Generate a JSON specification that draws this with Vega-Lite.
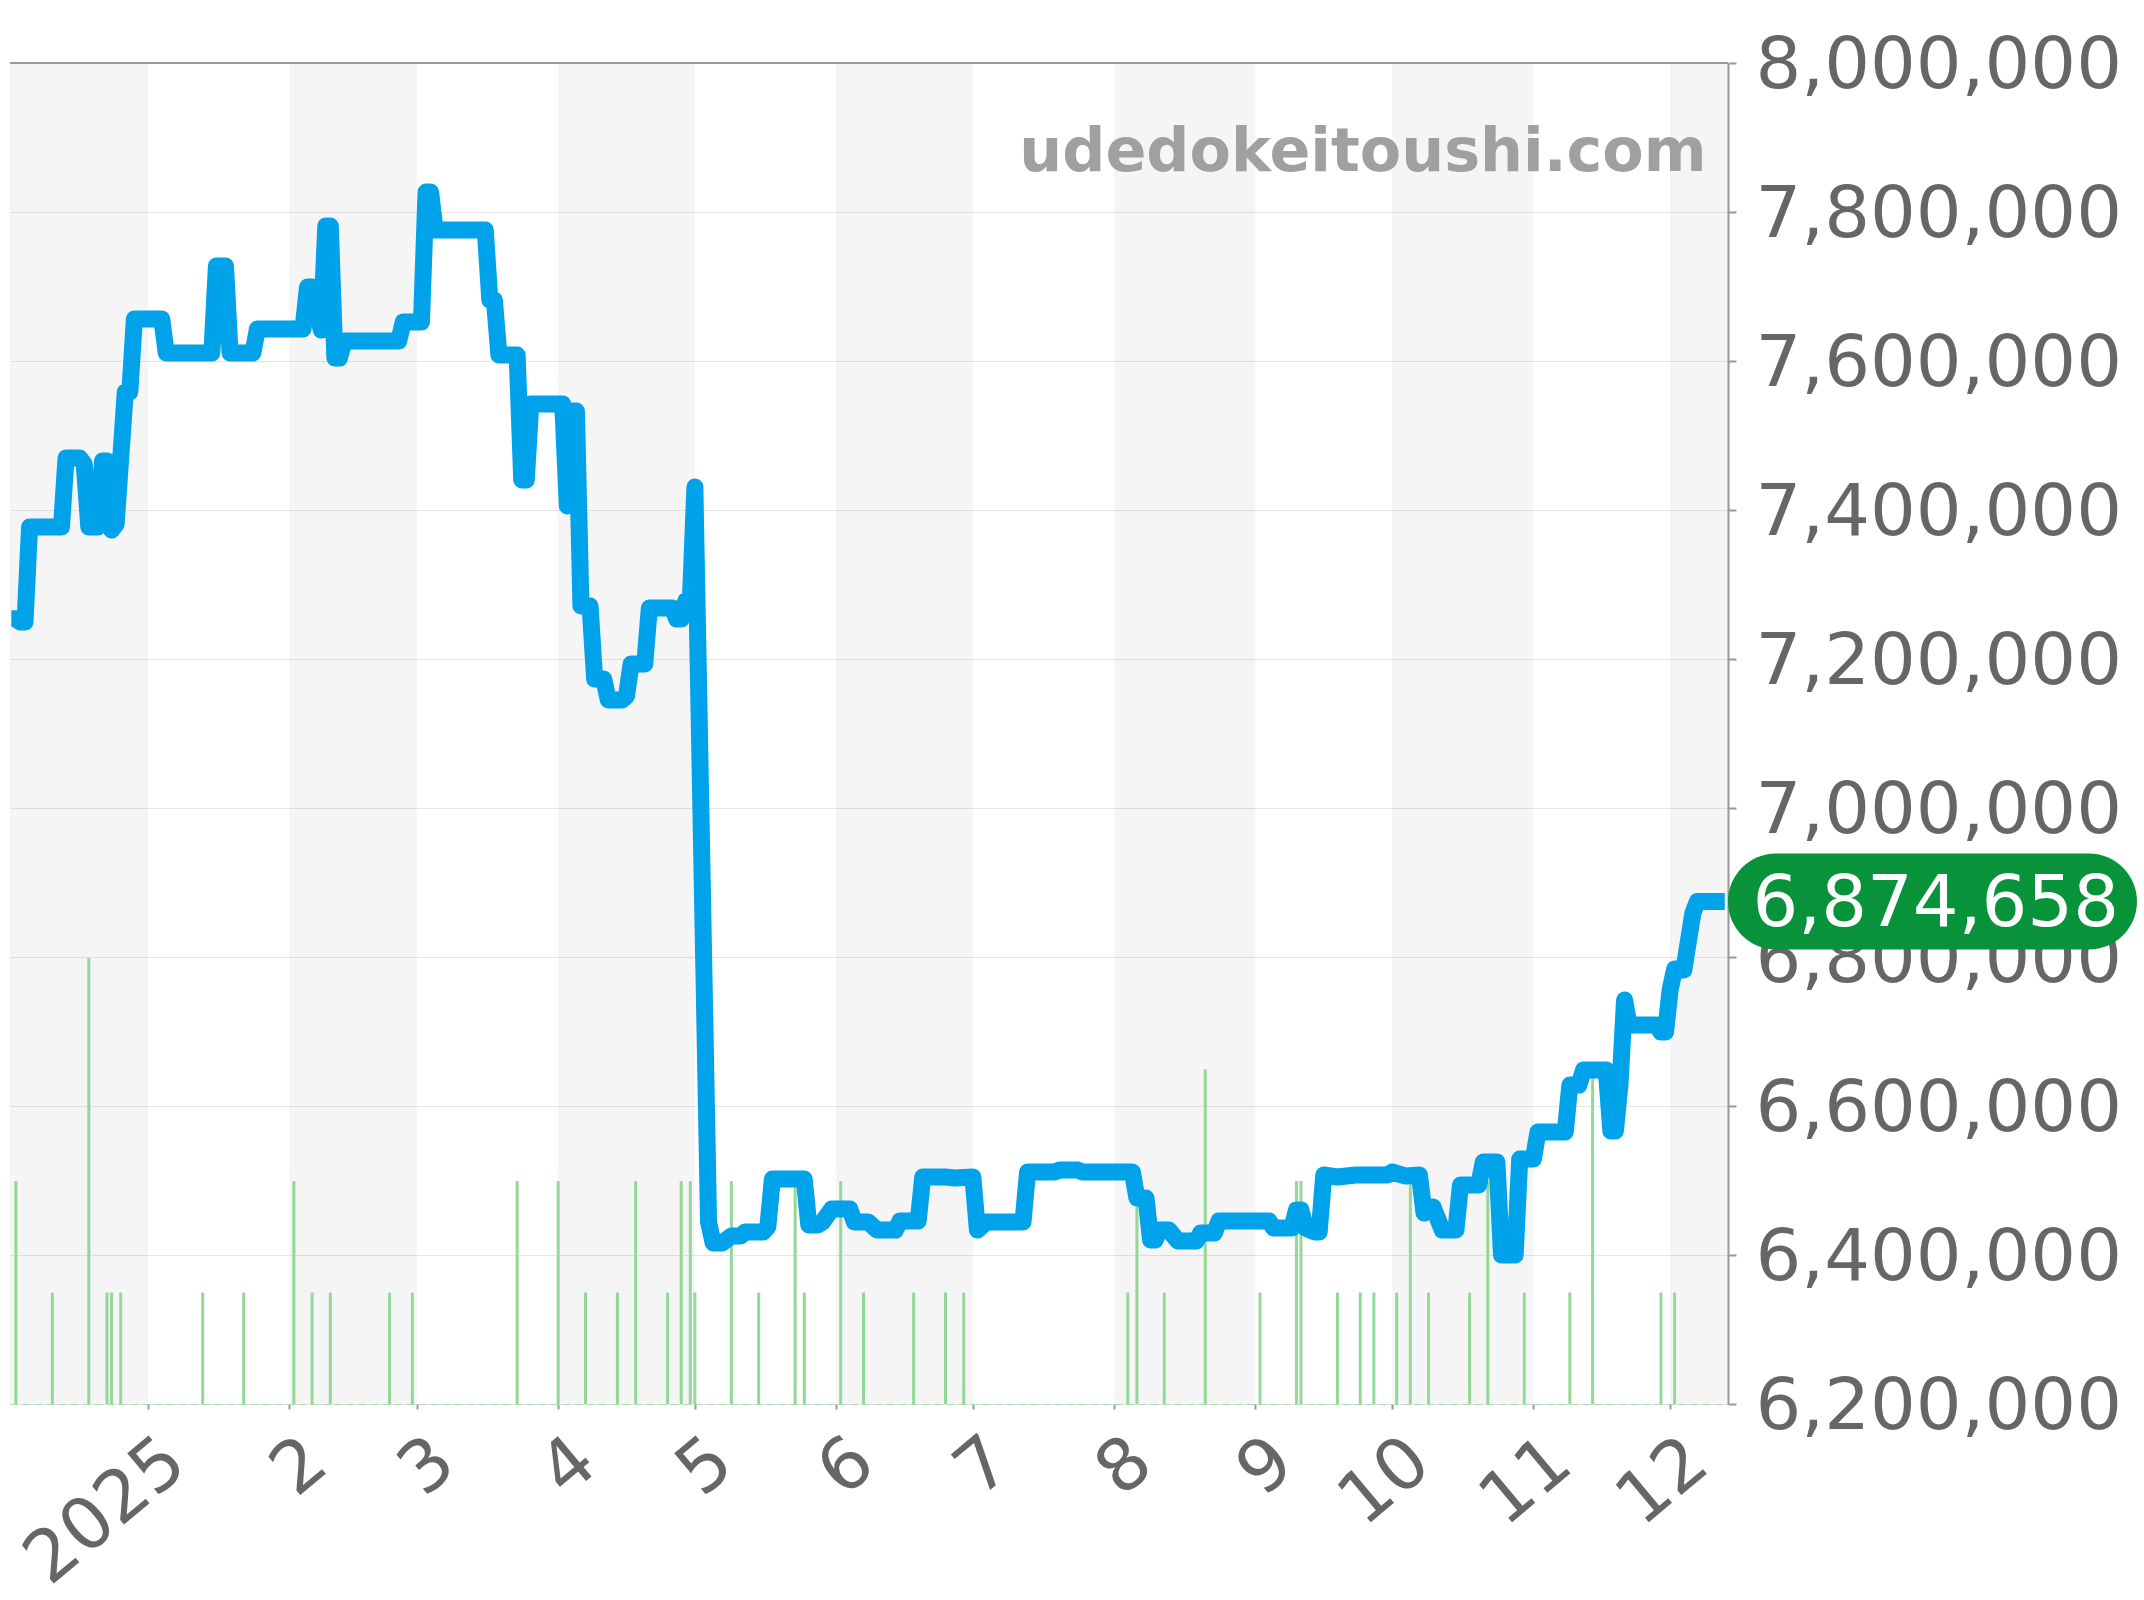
{
  "$schema": "https://vega.github.io/schema/vega-lite/v6.json",
  "width": 1718,
  "height": 1341,
  "autosize": {"type": "none"},
  "padding": {"left": 10, "top": 63, "right": 416, "bottom": 196},
  "background": "#ffffff",
  "config": {"view": {"stroke": null}, "font": "DejaVu Sans"},
  "datasets": {
    "bands": [
      {"start": "2024-12-01", "end": "2025-01-01"},
      {"start": "2025-02-01", "end": "2025-03-01"},
      {"start": "2025-04-01", "end": "2025-05-01"},
      {"start": "2025-06-01", "end": "2025-07-01"},
      {"start": "2025-08-01", "end": "2025-09-01"},
      {"start": "2025-10-01", "end": "2025-11-01"},
      {"start": "2025-12-01", "end": "2026-01-01"}
    ],
    "volume": [
      {"date": "2024-12-03", "count": 2}, {"date": "2024-12-11", "count": 1}, {"date": "2024-12-19", "count": 4},
      {"date": "2024-12-23", "count": 1}, {"date": "2024-12-24", "count": 1}, {"date": "2024-12-26", "count": 1},
      {"date": "2025-01-13", "count": 1}, {"date": "2025-01-22", "count": 1}, {"date": "2025-02-02", "count": 2},
      {"date": "2025-02-06", "count": 1}, {"date": "2025-02-10", "count": 1}, {"date": "2025-02-23", "count": 1},
      {"date": "2025-02-28", "count": 1}, {"date": "2025-03-23", "count": 2}, {"date": "2025-04-01", "count": 2},
      {"date": "2025-04-07", "count": 1}, {"date": "2025-04-14", "count": 1}, {"date": "2025-04-18", "count": 2},
      {"date": "2025-04-25", "count": 1}, {"date": "2025-04-28", "count": 2}, {"date": "2025-04-30", "count": 2},
      {"date": "2025-05-01", "count": 1}, {"date": "2025-05-09", "count": 2}, {"date": "2025-05-15", "count": 1},
      {"date": "2025-05-23", "count": 2}, {"date": "2025-05-25", "count": 1}, {"date": "2025-06-02", "count": 2},
      {"date": "2025-06-07", "count": 1}, {"date": "2025-06-18", "count": 1}, {"date": "2025-06-25", "count": 1},
      {"date": "2025-06-29", "count": 1}, {"date": "2025-08-04", "count": 1}, {"date": "2025-08-06", "count": 2},
      {"date": "2025-08-12", "count": 1}, {"date": "2025-08-21", "count": 3}, {"date": "2025-09-02", "count": 1},
      {"date": "2025-09-10", "count": 2}, {"date": "2025-09-11", "count": 2}, {"date": "2025-09-19", "count": 1},
      {"date": "2025-09-24", "count": 1}, {"date": "2025-09-27", "count": 1}, {"date": "2025-10-02", "count": 1},
      {"date": "2025-10-05", "count": 2}, {"date": "2025-10-09", "count": 1}, {"date": "2025-10-18", "count": 1},
      {"date": "2025-10-22", "count": 2}, {"date": "2025-10-30", "count": 1}, {"date": "2025-11-09", "count": 1},
      {"date": "2025-11-14", "count": 3}, {"date": "2025-11-29", "count": 1}, {"date": "2025-12-02", "count": 1}
    ],
    "price": [
      {"date": "2024-12-02", "price": 7254000}, {"date": "2024-12-03", "price": 7254000}, {"date": "2024-12-04", "price": 7249600}, {"date": "2024-12-05", "price": 7249600},
      {"date": "2024-12-06", "price": 7377200}, {"date": "2024-12-13", "price": 7377200}, {"date": "2024-12-14", "price": 7469800},
      {"date": "2024-12-17", "price": 7469800}, {"date": "2024-12-18", "price": 7461700}, {"date": "2024-12-19", "price": 7377200},
      {"date": "2024-12-21", "price": 7377200}, {"date": "2024-12-22", "price": 7465800}, {"date": "2024-12-23", "price": 7465800},
      {"date": "2024-12-24", "price": 7373100}, {"date": "2024-12-25", "price": 7381200}, {"date": "2024-12-27", "price": 7558400},
      {"date": "2024-12-28", "price": 7558400}, {"date": "2024-12-29", "price": 7656400}, {"date": "2025-01-04", "price": 7656400},
      {"date": "2025-01-05", "price": 7610700}, {"date": "2025-01-15", "price": 7610700}, {"date": "2025-01-16", "price": 7727500},
      {"date": "2025-01-18", "price": 7727500}, {"date": "2025-01-19", "price": 7610700}, {"date": "2025-01-24", "price": 7610700},
      {"date": "2025-01-25", "price": 7643000}, {"date": "2025-02-04", "price": 7643000}, {"date": "2025-02-05", "price": 7699300},
      {"date": "2025-02-06", "price": 7699300}, {"date": "2025-02-08", "price": 7641600}, {"date": "2025-02-09", "price": 7781200},
      {"date": "2025-02-10", "price": 7781200}, {"date": "2025-02-11", "price": 7604000}, {"date": "2025-02-12", "price": 7604000},
      {"date": "2025-02-13", "price": 7626800}, {"date": "2025-02-25", "price": 7626800}, {"date": "2025-02-26", "price": 7652300},
      {"date": "2025-03-02", "price": 7652300}, {"date": "2025-03-03", "price": 7826800}, {"date": "2025-03-04", "price": 7826800},
      {"date": "2025-03-05", "price": 7775800}, {"date": "2025-03-16", "price": 7775800}, {"date": "2025-03-17", "price": 7681900},
      {"date": "2025-03-18", "price": 7681900}, {"date": "2025-03-19", "price": 7608000}, {"date": "2025-03-23", "price": 7608000},
      {"date": "2025-03-24", "price": 7440300}, {"date": "2025-03-25", "price": 7440300}, {"date": "2025-03-26", "price": 7542300},
      {"date": "2025-04-02", "price": 7542300}, {"date": "2025-04-03", "price": 7405400}, {"date": "2025-04-04", "price": 7532900},
      {"date": "2025-04-05", "price": 7532900}, {"date": "2025-04-06", "price": 7271100}, {"date": "2025-04-08", "price": 7271100},
      {"date": "2025-04-09", "price": 7173100}, {"date": "2025-04-11", "price": 7173100}, {"date": "2025-04-12", "price": 7145000},
      {"date": "2025-04-15", "price": 7145000}, {"date": "2025-04-16", "price": 7150300}, {"date": "2025-04-17", "price": 7193300},
      {"date": "2025-04-20", "price": 7193300}, {"date": "2025-04-21", "price": 7268400}, {"date": "2025-04-26", "price": 7268400},
      {"date": "2025-04-27", "price": 7253700}, {"date": "2025-04-28", "price": 7253700}, {"date": "2025-04-29", "price": 7277800},
      {"date": "2025-04-30", "price": 7277800}, {"date": "2025-05-01", "price": 7430900}, {"date": "2025-05-04", "price": 6444300},
      {"date": "2025-05-05", "price": 6416100}, {"date": "2025-05-07", "price": 6416100}, {"date": "2025-05-09", "price": 6425500},
      {"date": "2025-05-11", "price": 6425500}, {"date": "2025-05-12", "price": 6430800}, {"date": "2025-05-16", "price": 6430800},
      {"date": "2025-05-17", "price": 6437600}, {"date": "2025-05-18", "price": 6502000}, {"date": "2025-05-25", "price": 6502000},
      {"date": "2025-05-26", "price": 6440200}, {"date": "2025-05-28", "price": 6440200}, {"date": "2025-05-29", "price": 6444300},
      {"date": "2025-05-31", "price": 6461700}, {"date": "2025-06-04", "price": 6461700}, {"date": "2025-06-05", "price": 6444300},
      {"date": "2025-06-08", "price": 6444300}, {"date": "2025-06-10", "price": 6433500}, {"date": "2025-06-14", "price": 6433500},
      {"date": "2025-06-15", "price": 6445600}, {"date": "2025-06-19", "price": 6445600}, {"date": "2025-06-20", "price": 6504700},
      {"date": "2025-06-25", "price": 6504700}, {"date": "2025-06-27", "price": 6503400}, {"date": "2025-07-01", "price": 6504700},
      {"date": "2025-07-02", "price": 6433500}, {"date": "2025-07-04", "price": 6444300}, {"date": "2025-07-12", "price": 6444300},
      {"date": "2025-07-13", "price": 6511400}, {"date": "2025-07-19", "price": 6511400}, {"date": "2025-07-20", "price": 6514100},
      {"date": "2025-07-24", "price": 6514100}, {"date": "2025-07-25", "price": 6511400}, {"date": "2025-08-05", "price": 6511400},
      {"date": "2025-08-06", "price": 6476500}, {"date": "2025-08-08", "price": 6476500}, {"date": "2025-08-09", "price": 6420100},
      {"date": "2025-08-10", "price": 6420100}, {"date": "2025-08-11", "price": 6433500}, {"date": "2025-08-13", "price": 6433500},
      {"date": "2025-08-15", "price": 6418800}, {"date": "2025-08-19", "price": 6418800}, {"date": "2025-08-20", "price": 6429500},
      {"date": "2025-08-23", "price": 6429500}, {"date": "2025-08-24", "price": 6445600}, {"date": "2025-09-04", "price": 6445600},
      {"date": "2025-09-05", "price": 6436200}, {"date": "2025-09-09", "price": 6436200}, {"date": "2025-09-10", "price": 6460400},
      {"date": "2025-09-11", "price": 6460400}, {"date": "2025-09-12", "price": 6436200}, {"date": "2025-09-14", "price": 6430800},
      {"date": "2025-09-15", "price": 6430800}, {"date": "2025-09-16", "price": 6507400}, {"date": "2025-09-19", "price": 6504700},
      {"date": "2025-09-21", "price": 6506000}, {"date": "2025-09-23", "price": 6507400}, {"date": "2025-09-30", "price": 6507400},
      {"date": "2025-10-01", "price": 6511400}, {"date": "2025-10-04", "price": 6506000}, {"date": "2025-10-07", "price": 6507400},
      {"date": "2025-10-08", "price": 6456300}, {"date": "2025-10-10", "price": 6464400}, {"date": "2025-10-12", "price": 6433500},
      {"date": "2025-10-15", "price": 6433500}, {"date": "2025-10-16", "price": 6493900}, {"date": "2025-10-20", "price": 6493900},
      {"date": "2025-10-21", "price": 6524800}, {"date": "2025-10-24", "price": 6524800}, {"date": "2025-10-25", "price": 6400000},
      {"date": "2025-10-28", "price": 6400000}, {"date": "2025-10-29", "price": 6528800}, {"date": "2025-11-01", "price": 6528800},
      {"date": "2025-11-02", "price": 6565100}, {"date": "2025-11-08", "price": 6565100}, {"date": "2025-11-09", "price": 6628200},
      {"date": "2025-11-11", "price": 6628200}, {"date": "2025-11-12", "price": 6648300}, {"date": "2025-11-17", "price": 6648300},
      {"date": "2025-11-18", "price": 6566400}, {"date": "2025-11-19", "price": 6566400}, {"date": "2025-11-20", "price": 6628200},
      {"date": "2025-11-21", "price": 6742300}, {"date": "2025-11-22", "price": 6708700}, {"date": "2025-11-28", "price": 6708700},
      {"date": "2025-11-29", "price": 6699300}, {"date": "2025-11-30", "price": 6699300}, {"date": "2025-12-01", "price": 6755700},
      {"date": "2025-12-02", "price": 6783900}, {"date": "2025-12-04", "price": 6782500}, {"date": "2025-12-06", "price": 6859000},
      {"date": "2025-12-07", "price": 6874658}, {"date": "2025-12-13", "price": 6874658}
    ],
    "latest": [{"date": "2025-12-13", "price": 6874658}],
    "site": [{"date": "2025-12-09", "price": 7855000, "label": "udedokeitoushi.com"}],
    "top": [{"price": 8000000}]
  },
  "layer": [
    {
      "data": {"name": "bands"},
      "mark": {"type": "rect", "fill": "#000000", "opacity": 0.04, "clip": true},
      "encoding": {
        "x": {"field": "start", "type": "temporal", "title": null, "scale": {"type": "utc"}},
        "x2": {"field": "end"}
      }
    },
    {
      "data": {"name": "volume"},
      "mark": {"type": "rule", "stroke": "#93d898", "strokeWidth": 3},
      "encoding": {
        "x": {"field": "date", "type": "temporal", "title": null, "scale": {"type": "utc"}},
        "y": {"field": "count", "type": "quantitative", "scale": {"domain": [0, 12.03], "nice": false, "zero": false}, "axis": null},
        "y2": {"datum": 0}
      }
    },
    {
      "data": {"name": "price"},
      "mark": {"type": "line", "stroke": "#00a2e9", "strokeWidth": 17, "strokeJoin": "round", "strokeCap": "butt"},
      "encoding": {
        "x": {
          "field": "date",
          "type": "temporal",
          "title": null,
          "scale": {
            "type": "utc",
            "domain": [
              {"year": 2024, "month": 12, "date": 1, "hours": 17, "utc": true},
              {"year": 2025, "month": 12, "date": 13, "hours": 17, "utc": true}
            ]
          },
          "axis": {
            "tickCount": {"interval": "month", "step": 1},
            "labelExpr": "utcmonth(datum.value) == 0 ? utcyear(datum.value) : utcmonth(datum.value) + 1",
            "labelAngle": -40,
            "labelAlign": "right",
            "labelBaseline": "top",
            "labelFontSize": 72,
            "labelColor": "#666666",
            "labelPadding": 16,
            "labelLimit": 600,
            "labelOffset": 5,
            "labelOverlap": false,
            "labelBound": false,
            "labelFlush": false,
            "tickColor": "#999999",
            "tickSize": 5,
            "tickWidth": 2,
            "domainColor": "#a8dcaa",
            "domainWidth": 1,
            "domainDash": [8, 4],
            "grid": false
          }
        },
        "y": {
          "field": "price",
          "type": "quantitative",
          "title": null,
          "scale": {"domain": [6200000, 8000000], "nice": false, "zero": false},
          "axis": {
            "orient": "right",
            "values": [6200000, 6400000, 6600000, 6800000, 7000000, 7200000, 7400000, 7600000, 7800000, 8000000],
            "format": ",d",
            "labelFontSize": 72,
            "labelColor": "#666666",
            "labelPadding": 19,
            "labelOffset": 2,
            "labelLimit": 600,
            "labelOverlap": false,
            "labelBound": false,
            "labelFlush": false,
            "tickColor": "#999999",
            "tickSize": 8,
            "tickWidth": 2,
            "domainColor": "#999999",
            "domainWidth": 2,
            "grid": true,
            "gridColor": "#e6e6e6",
            "gridWidth": 1
          }
        }
      }
    },
    {
      "data": {"name": "top"},
      "mark": {"type": "rule", "stroke": "#999999", "strokeWidth": 2},
      "encoding": {
        "y": {"field": "price", "type": "quantitative", "scale": {"domain": [6200000, 8000000], "nice": false, "zero": false}, "axis": null}
      }
    },
    {
      "data": {"name": "site"},
      "mark": {"type": "text", "align": "right", "baseline": "alphabetic", "fontSize": 60.3, "fontWeight": "bold", "color": "#a0a0a0"},
      "encoding": {
        "x": {"field": "date", "type": "temporal", "title": null, "scale": {"type": "utc"}},
        "y": {"field": "price", "type": "quantitative", "scale": {"domain": [6200000, 8000000], "nice": false, "zero": false}, "axis": null},
        "text": {"field": "label"}
      }
    },
    {
      "data": {"name": "latest"},
      "mark": {"type": "rect", "width": 409, "height": 96, "cornerRadius": 48, "xOffset": 207.7, "fill": "#089239"},
      "encoding": {
        "x": {"field": "date", "type": "temporal", "title": null, "scale": {"type": "utc"}},
        "y": {"field": "price", "type": "quantitative", "scale": {"domain": [6200000, 8000000], "nice": false, "zero": false}, "axis": null}
      }
    },
    {
      "data": {"name": "latest"},
      "mark": {"type": "text", "align": "center", "baseline": "middle", "dx": 211, "dy": 2.5, "fontSize": 72, "color": "#ffffff"},
      "encoding": {
        "x": {"field": "date", "type": "temporal", "title": null, "scale": {"type": "utc"}},
        "y": {"field": "price", "type": "quantitative", "scale": {"domain": [6200000, 8000000], "nice": false, "zero": false}, "axis": null},
        "text": {"field": "price", "type": "quantitative", "format": ",d"}
      }
    }
  ],
  "resolve": {"scale": {"y": "independent"}}
}
